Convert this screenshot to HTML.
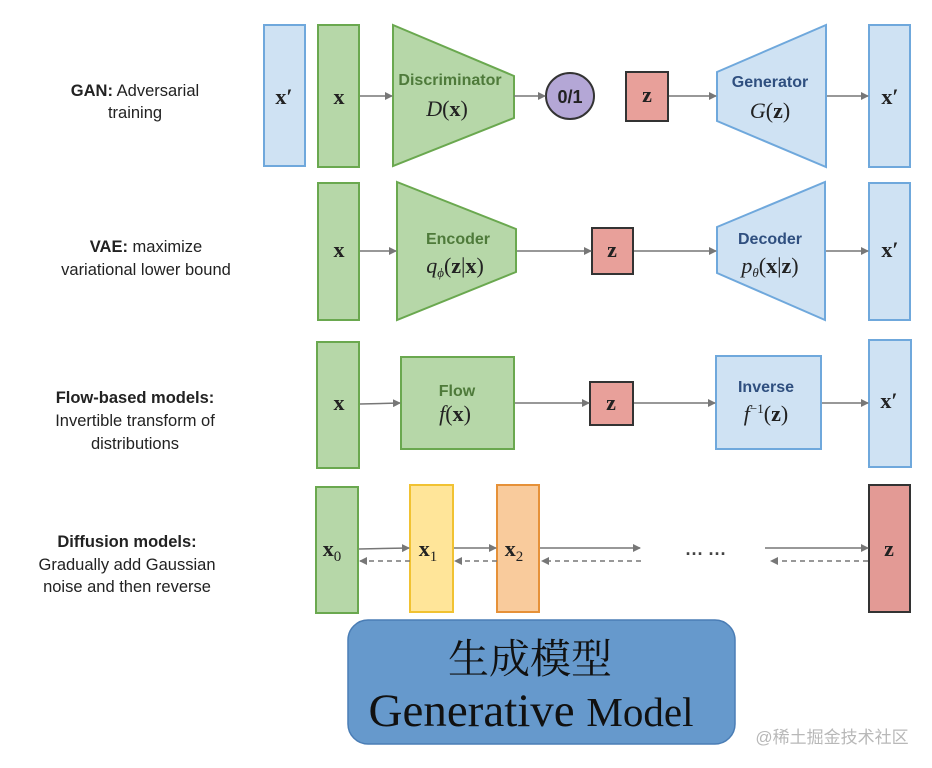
<!DOCTYPE html>
<html><head><meta charset="utf-8"><style>
html,body{margin:0;padding:0;background:#fff;}
svg{display:block;}
.lab{font-family:"Liberation Sans",sans-serif;font-size:16.5px;fill:#222;text-anchor:middle;}
.b{font-weight:bold;}
.m{font-family:"Liberation Serif",serif;font-size:22px;fill:#222;text-anchor:middle;}
.mb{font-family:"Liberation Serif",serif;font-size:22px;font-weight:bold;fill:#222;text-anchor:middle;}
.tg{font-family:"Liberation Sans",sans-serif;font-size:16px;font-weight:bold;fill:#4e7a3a;text-anchor:middle;}
.tb{font-family:"Liberation Sans",sans-serif;font-size:16px;font-weight:bold;fill:#2f4f7f;text-anchor:middle;}
.ar{stroke:#777;stroke-width:1.5;fill:none;}
.ds{stroke:#777;stroke-width:1.5;fill:none;stroke-dasharray:5,4;}
</style></head><body>
<svg width="932" height="768" viewBox="0 0 932 768" xmlns="http://www.w3.org/2000/svg">
<defs>
<marker id="a" markerWidth="8" markerHeight="8" refX="7" refY="4" orient="auto" markerUnits="userSpaceOnUse"><path d="M0,0 L8,4 L0,8 z" fill="#777"/></marker>
</defs>
<g stroke-width="2">
<text class="lab" x="135" y="96"><tspan class="b">GAN:</tspan> Adversarial</text>
<text class="lab" x="135" y="118">training</text>
<text class="lab" x="146" y="252"><tspan class="b">VAE:</tspan> maximize</text>
<text class="lab" x="146" y="275">variational lower bound</text>
<text class="lab" x="135" y="403" font-weight="bold">Flow-based models:</text>
<text class="lab" x="135" y="426">Invertible transform of</text>
<text class="lab" x="135" y="449">distributions</text>
<text class="lab" x="127" y="547" font-weight="bold">Diffusion models:</text>
<text class="lab" x="127" y="570">Gradually add Gaussian</text>
<text class="lab" x="127" y="592">noise and then reverse</text>

<rect x="264" y="25" width="41" height="141" fill="#cfe2f3" stroke="#6fa8dc"/>
<text class="mb" x="284" y="104">x′</text>
<rect x="318" y="25" width="41" height="142" fill="#b6d7a8" stroke="#6aa84f"/>
<text class="mb" x="339" y="104">x</text>
<path d="M393,25 L514,76 L514,118 L393,166 Z" fill="#b6d7a8" stroke="#6aa84f"/>
<text class="tg" x="450" y="85">Discriminator</text>
<text class="m" x="447" y="116"><tspan font-style="italic">D</tspan>(<tspan font-weight="bold">x</tspan>)</text>
<ellipse cx="570" cy="96" rx="24" ry="23" fill="#b4a7d6" stroke="#333"/>
<text x="570" y="103" font-family="Liberation Sans,sans-serif" font-size="18" font-weight="bold" fill="#222" text-anchor="middle">0/1</text>
<rect x="626" y="72" width="42" height="49" fill="#e8a09a" stroke="#333"/>
<text class="mb" x="647" y="102">z</text>
<path d="M717,72 L826,25 L826,167 L717,121 Z" fill="#cfe2f3" stroke="#6fa8dc"/>
<text class="tb" x="770" y="87">Generator</text>
<text class="m" x="770" y="118"><tspan font-style="italic">G</tspan>(<tspan font-weight="bold">z</tspan>)</text>
<rect x="869" y="25" width="41" height="142" fill="#cfe2f3" stroke="#6fa8dc"/>
<text class="mb" x="890" y="104">x′</text>
<line class="ar" x1="360" y1="96" x2="392" y2="96" marker-end="url(#a)"/>
<line class="ar" x1="514" y1="96" x2="545" y2="96" marker-end="url(#a)"/>
<line class="ar" x1="669" y1="96" x2="716" y2="96" marker-end="url(#a)"/>
<line class="ar" x1="827" y1="96" x2="868" y2="96" marker-end="url(#a)"/>

<rect x="318" y="183" width="41" height="137" fill="#b6d7a8" stroke="#6aa84f"/>
<text class="mb" x="339" y="257">x</text>
<path d="M397,182 L516,229 L516,272 L397,320 Z" fill="#b6d7a8" stroke="#6aa84f"/>
<text class="tg" x="458" y="244">Encoder</text>
<text class="m" x="455" y="273"><tspan font-style="italic">q</tspan><tspan font-size="13" font-style="italic" dy="4">ϕ</tspan><tspan dy="-4">(</tspan><tspan font-weight="bold">z</tspan>|<tspan font-weight="bold">x</tspan>)</text>
<rect x="592" y="228" width="41" height="46" fill="#e8a09a" stroke="#333"/>
<text class="mb" x="612" y="257">z</text>
<path d="M717,227 L825,182 L825,320 L717,273 Z" fill="#cfe2f3" stroke="#6fa8dc"/>
<text class="tb" x="770" y="244">Decoder</text>
<text class="m" x="770" y="273"><tspan font-style="italic">p</tspan><tspan font-size="13" font-style="italic" dy="4">θ</tspan><tspan dy="-4">(</tspan><tspan font-weight="bold">x</tspan>|<tspan font-weight="bold">z</tspan>)</text>
<rect x="869" y="183" width="41" height="137" fill="#cfe2f3" stroke="#6fa8dc"/>
<text class="mb" x="890" y="257">x′</text>
<line class="ar" x1="360" y1="251" x2="396" y2="251" marker-end="url(#a)"/>
<line class="ar" x1="517" y1="251" x2="591" y2="251" marker-end="url(#a)"/>
<line class="ar" x1="634" y1="251" x2="716" y2="251" marker-end="url(#a)"/>
<line class="ar" x1="826" y1="251" x2="868" y2="251" marker-end="url(#a)"/>

<rect x="317" y="342" width="42" height="126" fill="#b6d7a8" stroke="#6aa84f"/>
<text class="mb" x="339" y="410">x</text>
<rect x="401" y="357" width="113" height="92" fill="#b6d7a8" stroke="#6aa84f"/>
<text class="tg" x="457" y="396">Flow</text>
<text class="m" x="455" y="421"><tspan font-style="italic">f</tspan>(<tspan font-weight="bold">x</tspan>)</text>
<rect x="590" y="382" width="43" height="43" fill="#e8a09a" stroke="#333"/>
<text class="mb" x="611" y="410">z</text>
<rect x="716" y="356" width="105" height="93" fill="#cfe2f3" stroke="#6fa8dc"/>
<text class="tb" x="766" y="392">Inverse</text>
<text class="m" x="766" y="421"><tspan font-style="italic">f</tspan><tspan font-size="13" dy="-8">−1</tspan><tspan dy="8">(</tspan><tspan font-weight="bold">z</tspan>)</text>
<rect x="869" y="340" width="42" height="127" fill="#cfe2f3" stroke="#6fa8dc"/>
<text class="mb" x="889" y="408">x′</text>
<line class="ar" x1="360" y1="404" x2="400" y2="403" marker-end="url(#a)"/>
<line class="ar" x1="515" y1="403" x2="589" y2="403" marker-end="url(#a)"/>
<line class="ar" x1="634" y1="403" x2="715" y2="403" marker-end="url(#a)"/>
<line class="ar" x1="822" y1="403" x2="868" y2="403" marker-end="url(#a)"/>

<rect x="316" y="487" width="42" height="126" fill="#b6d7a8" stroke="#6aa84f"/>
<text class="mb" x="332" y="556">x<tspan font-weight="normal" font-size="15" dy="5">0</tspan></text>
<rect x="410" y="485" width="43" height="127" fill="#ffe599" stroke="#f1c232"/>
<text class="mb" x="428" y="556">x<tspan font-weight="normal" font-size="15" dy="5">1</tspan></text>
<rect x="497" y="485" width="42" height="127" fill="#f9cb9c" stroke="#e69138"/>
<text class="mb" x="514" y="556">x<tspan font-weight="normal" font-size="15" dy="5">2</tspan></text>
<rect x="869" y="485" width="41" height="127" fill="#e39a95" stroke="#333"/>
<text class="mb" x="889" y="556">z</text>
<line class="ar" x1="359" y1="549" x2="409" y2="548" marker-end="url(#a)"/>
<line class="ar" x1="454" y1="548" x2="496" y2="548" marker-end="url(#a)"/>
<line class="ar" x1="540" y1="548" x2="640" y2="548" marker-end="url(#a)"/>
<line class="ar" x1="765" y1="548" x2="868" y2="548" marker-end="url(#a)"/>
<line class="ds" x1="410" y1="561" x2="360" y2="561" marker-end="url(#a)"/>
<line class="ds" x1="497" y1="561" x2="455" y2="561" marker-end="url(#a)"/>
<line class="ds" x1="641" y1="561" x2="542" y2="561" marker-end="url(#a)"/>
<line class="ds" x1="868" y1="561" x2="771" y2="561" marker-end="url(#a)"/>
<text x="706" y="560" font-family="Liberation Sans,sans-serif" font-size="18" font-weight="bold" fill="#444" text-anchor="middle">··· ···</text>

<rect x="348" y="620" width="387" height="124" rx="20" ry="20" fill="#6699cc" stroke="#4a7db5" stroke-width="1.5"/>
<text x="530" y="673" font-family="Liberation Serif,'Noto Serif CJK SC','Noto Sans CJK SC',serif" font-size="41" fill="#111" text-anchor="middle">生成模型</text>
<text x="531" y="726" font-family="Liberation Serif,serif" font-size="47" fill="#111" text-anchor="middle">Generative <tspan font-size="41">Model</tspan></text>
<text x="832" y="743" font-family="Liberation Sans,'Noto Sans CJK SC',sans-serif" font-size="17" fill="#b8b8b8" text-anchor="middle">@稀土掘金技术社区</text>
</g>
</svg>
</body></html>
